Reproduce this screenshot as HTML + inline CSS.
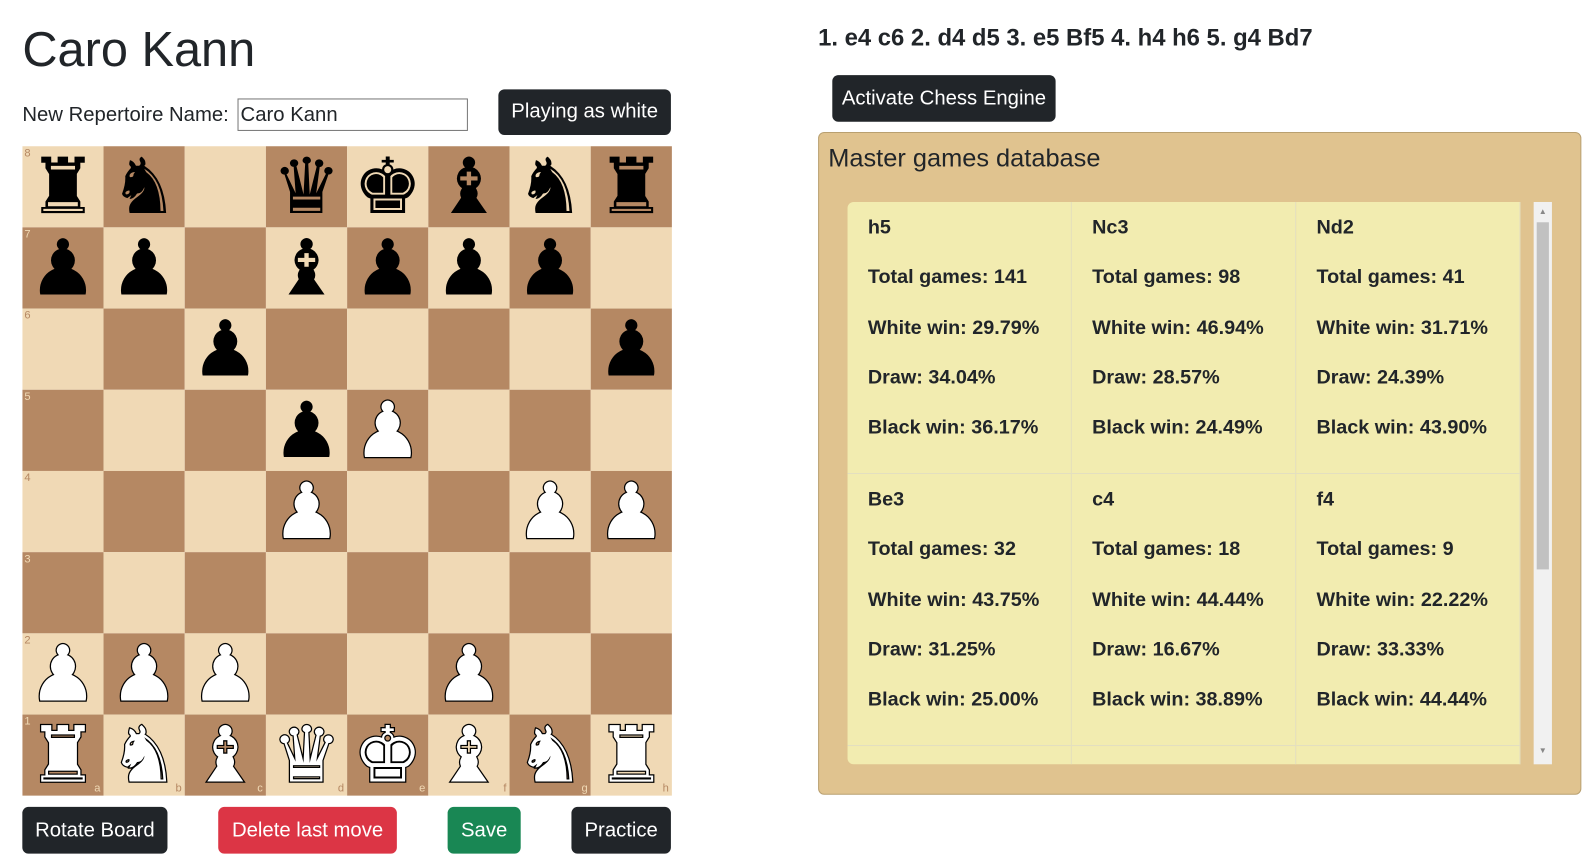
<!DOCTYPE html>
<html><head><meta charset="utf-8"><style>
body{margin:0;width:1591px;height:861px;background:#fff;font-family:"Liberation Sans","DejaVu Sans",sans-serif;color:#212529;position:relative;overflow:hidden}
#wrap{position:absolute;left:0;top:0;width:1568px;height:848px;transform:scale(1.015);transform-origin:0 0}
.abs{position:absolute}
.btn{position:absolute;color:#fff;border-radius:6px;font-size:20px;display:flex;align-items:center;justify-content:center;background:#212529}
#board{position:absolute;left:22px;top:144px;width:640px;height:640px;display:grid;grid-template-columns:repeat(8,80px);grid-template-rows:repeat(8,80px);overflow:hidden}
.sq{position:relative;display:flex;align-items:center;justify-content:center;font-family:"DejaVu Sans",sans-serif;font-size:76px;line-height:80px;color:#000;overflow:hidden}
.w{color:#fff;-webkit-text-stroke:2.5px #000;paint-order:stroke fill}
.l{background:#f0d9b5}.d{background:#b58863}
.rk{position:absolute;left:2px;top:1px;font-size:11px;line-height:12px;font-family:"Liberation Sans",sans-serif}
.fl{position:absolute;right:3px;bottom:1px;font-size:11px;line-height:12px;font-family:"Liberation Sans",sans-serif}
.l .rk,.l .fl{color:#b58863}.d .rk,.d .fl{color:#f0d9b5}
.card{position:absolute;width:221px;height:268px;background:#f2ecb0;box-sizing:border-box;border-right:1px solid #e3dfc0;border-bottom:1px solid #e3dfc0;font-weight:bold;font-size:19.5px}
.card div{position:absolute;left:20px}
</style></head><body><div id="wrap">
<div class="abs" style="left:22px;top:22px;font-size:48px;line-height:56px">Caro Kann</div>
<div class="abs" style="left:22px;top:102px;font-size:20px">New Repertoire Name:</div>
<div class="abs" style="left:234px;top:97px;width:227px;height:32px;border:1px solid #767676;box-sizing:border-box;font-size:20px;line-height:30px;padding-left:2px">Caro Kann</div>
<div class="btn" style="left:491px;top:88px;width:170px;height:45px">Playing as white</div>
<div id="board"></div>
<div class="btn" style="left:22px;top:795px;width:143px;height:46px">Rotate Board</div>
<div class="btn" style="left:215px;top:795px;width:176px;height:46px;background:#dc3545">Delete last move</div>
<div class="btn" style="left:441px;top:795px;width:72px;height:46px;background:#198754">Save</div>
<div class="btn" style="left:563px;top:795px;width:98px;height:46px">Practice</div>
<div class="abs" style="left:806px;top:24px;font-size:23.5px;font-weight:bold">1. e4 c6 2. d4 d5 3. e5 Bf5 4. h4 h6 5. g4 Bd7</div>
<div class="btn" style="left:820px;top:74px;width:220px;height:46px">Activate Chess Engine</div>
<div class="abs" style="left:806px;top:130px;width:752px;height:653px;background:#e0c38f;border:1px solid #b9a070;border-radius:6px;box-sizing:border-box">
<div class="abs" style="left:9px;top:11px;font-size:25px">Master games database</div>
<div class="abs" id="scroll" style="left:28px;top:68px;width:694px;height:554px;overflow:hidden;border-radius:6px"></div>
<div class="abs" style="left:704px;top:68px;width:18px;height:554px;background:#f1f1f1">
<div class="abs" style="left:3px;top:20px;width:12px;height:342px;background:#c1c1c1"></div>
<div class="abs" style="left:5px;top:5px;font-size:8px;color:#888">▲</div>
<div class="abs" style="left:5px;top:536px;font-size:8px;color:#888">▼</div>
</div>
</div>
</div>
<script>
const rows=["rn.qkbnr","pp.bppp.","..p....p","...pP...","...P..PP","........","PPP..P..","RNBQKBNR"];
const glyph={k:"♚",q:"♛",r:"♜",b:"♝",n:"♞",p:"♟"};
const files="abcdefgh";
const board=document.getElementById('board');
for(let r=0;r<8;r++)for(let f=0;f<8;f++){
 const s=document.createElement('div');
 s.className='sq '+((r+f)%2?'d':'l');
 
 
 const c=rows[r][f];
 if(c!=='.'){const p=document.createElement('span');p.textContent=glyph[c.toLowerCase()];
  if(c!==c.toLowerCase())p.className='w';
  
  s.appendChild(p);}
 if(f===0){const k=document.createElement('span');k.className='rk';k.textContent=8-r;s.appendChild(k);}
 if(r===7){const k=document.createElement('span');k.className='fl';k.textContent=files[f];s.appendChild(k);}
 board.appendChild(s);}
const moves=["h5","Nc3","Nd2","Be3","c4","f4","a5","Bd3","Kf1"];
const totals=["141","98","41","32","18","9","","",""];
const whites=["29.79%","46.94%","31.71%","43.75%","44.44%","22.22%","","",""];
const draws=["34.04%","28.57%","24.39%","31.25%","16.67%","33.33%","","",""];
const blacks=["36.17%","24.49%","43.90%","25.00%","38.89%","44.44%","","",""];
const sc=document.getElementById('scroll');
moves.forEach((m,i)=>{
 const c=document.createElement('div');c.className='card';
 
 
 c.style.left=(i%3)*221+'px';c.style.top=Math.floor(i/3)*268+'px';
 const lines=i<6?[m,"Total games: "+totals[i],"White win: "+whites[i],"Draw: "+draws[i],"Black win: "+blacks[i]]:[""];
 lines.forEach((t,j)=>{const d=document.createElement('div');d.textContent=t;d.style.top=(14+j*49.3)+'px';c.appendChild(d);});
 sc.appendChild(c);});
</script>
</body></html>
